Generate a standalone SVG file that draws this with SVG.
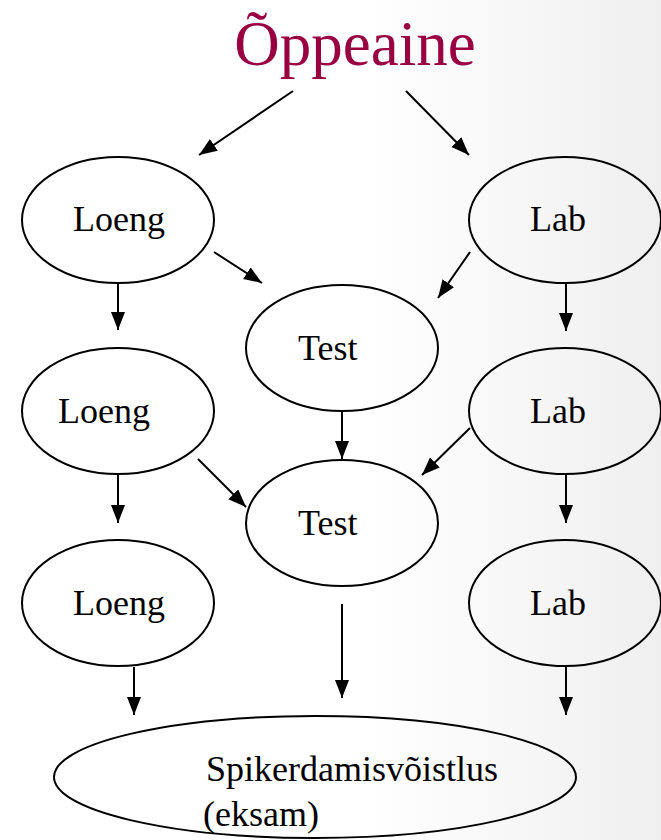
<svg xmlns="http://www.w3.org/2000/svg" width="661" height="840" viewBox="0 0 661 840">
<defs>
<linearGradient id="bg" x1="0" y1="0" x2="1" y2="0">
<stop offset="0" stop-color="#ffffff"/>
<stop offset="0.55" stop-color="#ffffff"/>
<stop offset="1" stop-color="#efefef"/>
</linearGradient>
<marker id="ah" markerUnits="userSpaceOnUse" markerWidth="20" markerHeight="16" refX="18" refY="7" orient="auto">
<path d="M0,0 L18,7 L0,14 Z" fill="#000"/>
</marker>
<style>
.n ellipse{fill:none;stroke:#000;stroke-width:2}
.t{font-family:"Liberation Serif","Times New Roman",serif;font-size:36px;fill:#000}
#edges line{stroke:#000;stroke-width:2;marker-end:url(#ah)}
</style>
</defs>
<rect width="661" height="840" fill="url(#bg)"/>
<text x="355" y="65" text-anchor="middle" style="font-family:'Liberation Serif','Times New Roman',serif;font-size:63px;fill:#990041">Õppeaine</text>
<g id="loeng1" class="n"><ellipse cx="118" cy="220" rx="96" ry="63"/><text class="t" x="73" y="231">Loeng</text></g>
<g id="lab1" class="n"><ellipse cx="565" cy="220" rx="96" ry="63"/><text class="t" x="530" y="231">Lab</text></g>
<g id="test1" class="n"><ellipse cx="342" cy="348" rx="96" ry="63"/><text class="t" x="298" y="360">Test</text></g>
<g id="loeng2" class="n"><ellipse cx="118" cy="411" rx="96" ry="63"/><text class="t" x="58" y="423">Loeng</text></g>
<g id="lab2" class="n"><ellipse cx="565" cy="411" rx="96" ry="63"/><text class="t" x="530" y="423">Lab</text></g>
<g id="test2" class="n"><ellipse cx="342" cy="523" rx="96" ry="63"/><text class="t" x="298" y="535">Test</text></g>
<g id="loeng3" class="n"><ellipse cx="118" cy="603" rx="96" ry="63"/><text class="t" x="73" y="615">Loeng</text></g>
<g id="lab3" class="n"><ellipse cx="565" cy="603" rx="96" ry="63"/><text class="t" x="530" y="615">Lab</text></g>
<g id="exam" class="n"><ellipse cx="315" cy="777" rx="261" ry="61"/><text class="t" x="206" y="781">Spikerdamisvõistlus</text><text class="t" x="203" y="826">(eksam)</text></g>
<g id="edges">
<line x1="293" y1="91" x2="199" y2="155"/>
<line x1="406" y1="91" x2="469" y2="155"/>
<line x1="214" y1="252" x2="262" y2="283"/>
<line x1="118" y1="283" x2="118" y2="330"/>
<line x1="470" y1="252" x2="438" y2="298"/>
<line x1="566" y1="283" x2="566" y2="331"/>
<line x1="342" y1="411" x2="342" y2="459"/>
<line x1="198" y1="459" x2="246" y2="507"/>
<line x1="470" y1="428" x2="422" y2="475"/>
<line x1="118" y1="474" x2="118" y2="523"/>
<line x1="566" y1="474" x2="566" y2="523"/>
<line x1="342" y1="604" x2="342" y2="698"/>
<line x1="134" y1="667" x2="134" y2="715"/>
<line x1="566" y1="667" x2="566" y2="715"/>
</g>
</svg>
